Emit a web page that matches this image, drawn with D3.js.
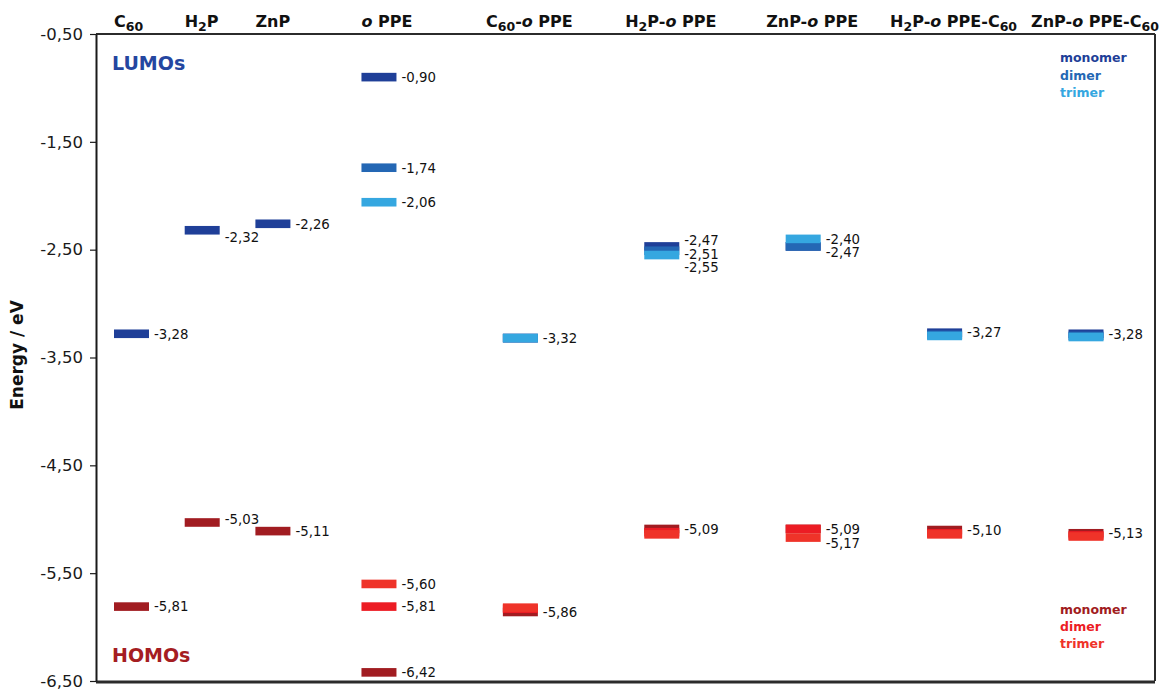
<!DOCTYPE html>
<html>
<head>
<meta charset="utf-8">
<script src="https://cdn.jsdelivr.net/npm/d3@7"></script>
<style>
  html, body { margin: 0; padding: 0; background: #fff; }
  svg { display: block; font-family: "DejaVu Sans", Verdana, sans-serif; }
</style>
</head>
<body>
<svg id="chart" width="1168" height="690"></svg>
<script>
// Frontier orbital energies (eV) of the building blocks and their oligomers.
const columns = ["C60", "H2P", "ZnP", "oPPE", "C60-oPPE", "H2P-oPPE", "ZnP-oPPE", "H2P-oPPE-C60", "ZnP-oPPE-C60"];

// Header text split into runs: [text, style] where style is "", "sub" or "it".
const headerParts = [
  [["C", ""], ["60", "sub"]],
  [["H", ""], ["2", "sub"], ["P", ""]],
  [["ZnP", ""]],
  [["o", "it"], [" PPE", ""]],
  [["C", ""], ["60", "sub"], ["-", ""], ["o", "it"], [" PPE", ""]],
  [["H", ""], ["2", "sub"], ["P-", ""], ["o", "it"], [" PPE", ""]],
  [["ZnP-", ""], ["o", "it"], [" PPE", ""]],
  [["H", ""], ["2", "sub"], ["P-", ""], ["o", "it"], [" PPE-C", ""], ["60", "sub"]],
  [["ZnP-", ""], ["o", "it"], [" PPE-C", ""], ["60", "sub"]]
];

// LUMO levels per oligomer size (null = not computed)
const lumoMonomer = [-3.28, -2.32, -2.26, -0.90, -3.32, -2.47, -2.47, -3.27, -3.28];
const lumoDimer   = [null,  null,  null,  -1.74, -3.32, -2.51, -2.47, -3.29, -3.30];
const lumoTrimer  = [null,  null,  null,  -2.06, -3.32, -2.55, -2.40, -3.30, -3.31];

// HOMO levels per oligomer size
const homoMonomer = [-5.81, -5.03, -5.11, -6.42, -5.86, -5.09, -5.09, -5.10, -5.13];
const homoDimer   = [null,  null,  null,  -5.81, -5.83, -5.12, -5.09, -5.13, -5.15];
const homoTrimer  = [null,  null,  null,  -5.60, -5.82, -5.14, -5.17, -5.14, -5.16];

// Values written next to the levels
const lumoLabels = [[-3.28], [-2.32], [-2.26], [-0.90, -1.74, -2.06], [-3.32], [-2.47, -2.51, -2.55], [-2.40, -2.47], [-3.27], [-3.28]];
const homoLabels = [[-5.81], [-5.03], [-5.11], [-5.60, -5.81, -6.42], [-5.86], [-5.09], [-5.09, -5.17], [-5.10], [-5.13]];

const yTicks = [-0.5, -1.5, -2.5, -3.5, -4.5, -5.5, -6.5];
const sizes = ["monomer", "dimer", "trimer"];

// ---- styling ----
const lumoColors = { monomer: "#1f3f98", dimer: "#2467b4", trimer: "#35a7e0" };
const homoColors = { monomer: "#a11c21", dimer: "#ec1c24", trimer: "#ef3329" };

const svg = d3.select("#chart");
const plotL = 96, plotR = 1155, plotT = 34, plotB = 681;

const y = d3.scaleLinear().domain([-0.5, -6.5]).range([plotT, plotB]);

// Column spacing: the three single molecules sit closer together than the assemblies.
const colGaps = [0, 1, 1, 1.5, 2, 2, 2, 2, 2];
const colPos = d3.cumsum(colGaps);
const x = d3.scaleLinear().domain([0, colPos[colPos.length - 1]]).range([131.5, 1086]);
const cx = i => x(colPos[i]);

const barW = 35, barH = 8.6;

const locale = d3.formatLocale({ decimal: ",", thousands: ".", grouping: [3], currency: ["", ""], minus: "-" });
const fmt = locale.format(".2f");

// ---- frame ----
svg.append("line").attr("x1", plotL).attr("x2", plotR).attr("y1", plotT).attr("y2", plotT)
  .attr("stroke", "#2b2b2b").attr("stroke-width", 2);
svg.append("line").attr("x1", plotR).attr("x2", plotR).attr("y1", plotT).attr("y2", plotB)
  .attr("stroke", "#2b2b2b").attr("stroke-width", 2);
svg.append("line").attr("x1", plotL).attr("x2", plotR).attr("y1", plotB + 1).attr("y2", plotB + 1)
  .attr("stroke", "#2b2b2b").attr("stroke-width", 3);

// ---- y axis ----
const yAxis = d3.axisLeft(y).tickValues(yTicks).tickFormat(fmt).tickSize(6).tickPadding(7).tickSizeOuter(0);
const gy = svg.append("g").attr("transform", `translate(${plotL},0)`).call(yAxis);
gy.select(".domain").attr("stroke", "#1a1a1a").attr("stroke-width", 2);
gy.selectAll(".tick line").attr("stroke", "#1a1a1a").attr("stroke-width", 1.2);
gy.selectAll(".tick text").attr("font-size", 16.5).attr("fill", "#1a1a1a")
  .attr("font-family", "'DejaVu Sans', Verdana, sans-serif");

svg.append("text")
  .attr("transform", "translate(23,355) rotate(-90)")
  .attr("text-anchor", "middle")
  .attr("font-weight", "bold").attr("font-size", 17).attr("fill", "#111")
  .text("Energy / eV");

// ---- column headers ----
// Single molecules are flush with their level's left end; assemblies are centred.
headerParts.forEach((parts, i) => {
  const single = i < 4;
  const t = svg.append("text")
    .attr("x", single ? cx(i) - barW / 2 : cx(i) + 9).attr("y", 27)
    .attr("text-anchor", single ? "start" : "middle")
    .attr("font-weight", "bold").attr("font-size", 16).attr("fill", "#111");
  let shifted = false;
  parts.forEach(([txt, style]) => {
    const s = t.append("tspan").text(txt);
    if (style === "sub") {
      s.attr("font-size", 12.5).attr("dy", shifted ? 0 : 4);
      shifted = true;
    } else {
      if (shifted) { s.attr("dy", -4); shifted = false; }
      if (style === "it") s.attr("font-style", "italic");
    }
  });
});

// ---- levels ----
function levelRows(series, colors) {
  const rows = [];
  columns.forEach((c, i) => {
    sizes.forEach((s, k) => {
      const v = series[k][i];
      if (v != null) rows.push({ col: i, size: s, value: v, color: colors[s] });
    });
  });
  return rows;
}

const lumoRows = levelRows([lumoMonomer, lumoDimer, lumoTrimer], lumoColors);
const homoRows = levelRows([homoMonomer, homoDimer, homoTrimer], homoColors);

svg.append("g").selectAll("rect").data(lumoRows.concat(homoRows)).join("rect")
  .attr("x", d => cx(d.col) - barW / 2)
  .attr("y", d => y(d.value) - barH / 2)
  .attr("width", barW)
  .attr("height", barH)
  .attr("fill", d => d.color);

// ---- value labels ----
function placeLabels(vals) {
  const ys = vals.map(v => y(v));
  const gap = 13.5;
  let crowded = false;
  for (let i = 1; i < ys.length; i++) if (Math.abs(ys[i] - ys[i - 1]) < gap) crowded = true;
  if (!crowded) return ys;
  const m = d3.mean(ys);
  return ys.map((_, i) => m + (i - (ys.length - 1) / 2) * gap + 3);
}

// The free-base porphyrin labels sit a little off their levels.
const labelNudge = { lumo: { 1: 7 }, homo: { 1: -3 } };

const labelRows = [];
[["lumo", lumoLabels], ["homo", homoLabels]].forEach(([kind, set]) => {
  set.forEach((vals, i) => {
    const ys = placeLabels(vals);
    const dy = labelNudge[kind][i] || 0;
    vals.forEach((v, k) => labelRows.push({ col: i, value: v, ly: ys[k] + dy }));
  });
});

svg.append("g").selectAll("text").data(labelRows).join("text")
  .attr("x", d => cx(d.col) + barW / 2 + 5)
  .attr("y", d => d.ly)
  .attr("dy", "0.36em")
  .attr("font-size", 13.3).attr("fill", "#111")
  .text(d => fmt(d.value));

// ---- LUMOs / HOMOs captions ----
svg.append("text").attr("x", 112).attr("y", 70)
  .attr("font-weight", "bold").attr("font-size", 19).attr("fill", "#2446a0").text("LUMOs");
svg.append("text").attr("x", 112).attr("y", 662)
  .attr("font-weight", "bold").attr("font-size", 19).attr("fill", "#a51d22").text("HOMOs");

// ---- legends ----
const legLumo = svg.append("g");
sizes.forEach((s, k) => {
  legLumo.append("text").attr("x", 1060).attr("y", 62 + k * 17.5)
    .attr("font-weight", "bold").attr("font-size", 12.5).attr("fill", lumoColors[s]).text(s);
});
const legHomo = svg.append("g");
sizes.forEach((s, k) => {
  legHomo.append("text").attr("x", 1060).attr("y", 614 + k * 17)
    .attr("font-weight", "bold").attr("font-size", 12.5).attr("fill", homoColors[s]).text(s);
});
</script>
</body>
</html>
